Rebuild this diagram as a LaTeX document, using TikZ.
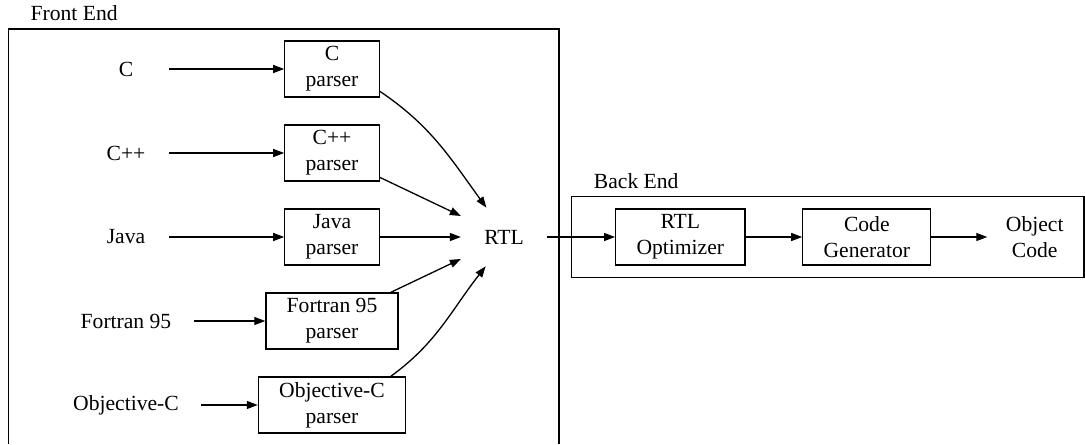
\documentclass[tikz,border=0pt]{standalone}
\usepackage{fontspec}
\setmainfont{Liberation Serif}
\usetikzlibrary{arrows.meta}

\begin{document}
\begin{tikzpicture}[x=0.5pt, y=0.5pt, line width=0.65pt,
    >={Triangle[length=5.5pt, width=4pt]},
    every node/.style = {font=\fontsize{10.8}{13}\selectfont},
    lang/.style = {inner xsep=11pt, minimum width=42.5pt, minimum height=28.7pt},
    parser/.style = {draw, align=center, inner xsep=10.4pt, inner ysep=1.5pt, minimum width=43.7pt, minimum height=28pt},
    boxtitle/.style = {inner sep=0pt, anchor=base west}]
    \useasboundingbox (0,0) rectangle (1085,-444);

    \node[lang] (c) at (126,-69) {C};
    \node[lang] (cpp) [node distance=42pt, below of=c] {C++};
    \node[lang] (java) [node distance=42pt, below of=cpp] {Java};
    \node[lang] (fortran) [node distance=42pt, below of=java] {Fortran 95};
    \node[lang] (objc) [node distance=42pt, below of=fortran] {Objective-C};

    \node[parser] (cp) [node distance=103pt, right of=c] {C\\parser};
    \node[parser] (cppp) [node distance=103pt, right of=cpp] {C++\\parser};
    \node[parser] (jp) [node distance=103pt, right of=java] {Java\\parser};
    \node[parser] (fp) [node distance=103pt, right of=fortran] {Fortran 95\\parser};
    \node[parser] (op) [node distance=103pt, right of=objc] {Objective-C\\parser};

    \node[lang] (rtl) [node distance=86pt, right of=jp] {RTL};

    \node[parser] (ro) [node distance=88.15pt, right of=rtl] {RTL\\Optimizer};
    \node[parser] (cg) [node distance=93.25pt, right of=ro] {Code\\Generator};
    \node[lang, align=center, inner xsep=9pt] (obj) [node distance=83.95pt, right of=cg] {Object\\Code};

    % front end and back end frames
    \draw (8.3,-444) |- (559,-29) -- (559,-444);
    \node[boxtitle] (fe) at (30,-20.5) {Front End};
    \draw (571.7,-196.7) rectangle (1084,-277.3);
    \node[boxtitle] (be) at (593.3,-188.3) {Back End};

    \draw[->] (c) -- (cp);
    \draw[->] (cpp) -- (cppp);
    \draw[->] (java) -- (jp);
    \draw[->] (fortran) -- (fp);
    \draw[->] (objc) -- (op);

    \draw[->] (cp.-25) to[out=-34, in=126] (rtl.121);
    \draw[->] (cppp.-27) -- (rtl.154);
    \draw[->] (jp) -- (rtl);
    \draw[->] (fp.26.4) -- (rtl.207);
    \draw[->] (op.26.8) to[out=36, in=232] (rtl.238.6);

    \draw[->] (rtl) -- (ro);
    \draw[->] (ro) -- (cg);
    \draw[->] (cg) -- (obj);

\end{tikzpicture}
\end{document}
